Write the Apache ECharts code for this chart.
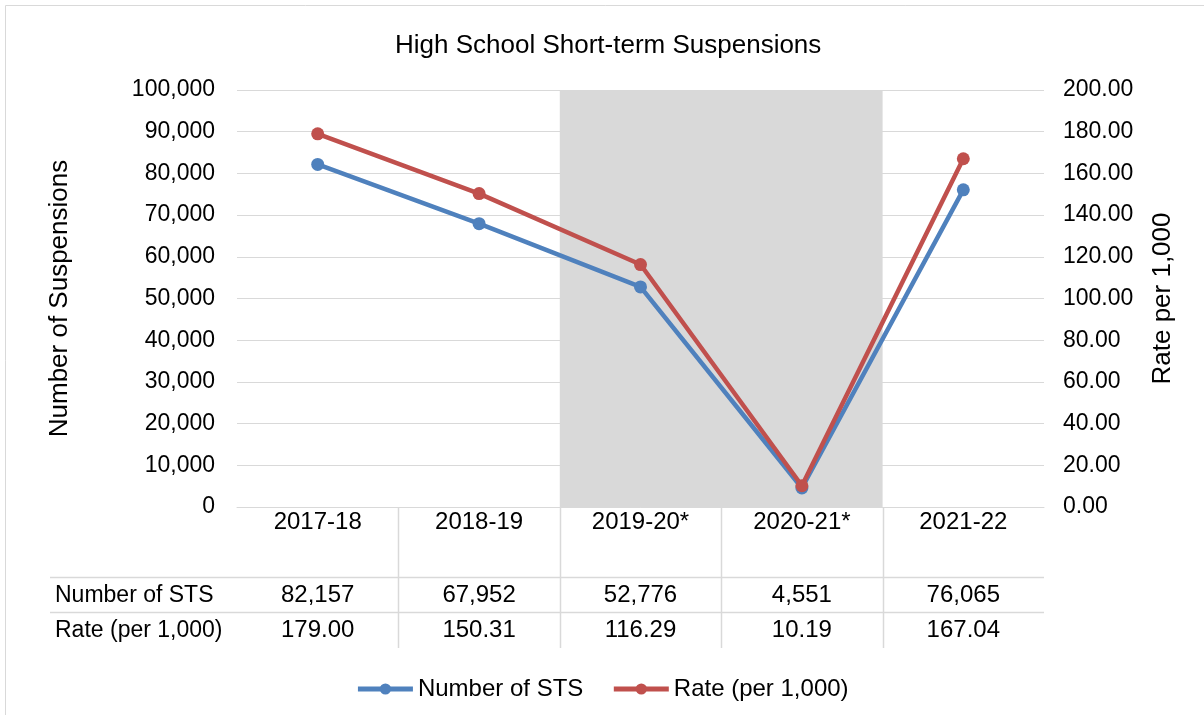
<!DOCTYPE html>
<html>
<head>
<meta charset="utf-8">
<title>High School Short-term Suspensions</title>
<script src="https://cdn.jsdelivr.net/npm/echarts@6/dist/echarts.min.js"></script>
<style>
  html, body { margin: 0; padding: 0; background: #fff; }
  #main { width: 1204px; height: 715px; }
</style>
</head>
<body>
<div id="main"></div>
<script>
// data
var years = ['2017-18', '2018-19', '2019-20*', '2020-21*', '2021-22'];
var stsCount = [82157, 67952, 52776, 4551, 76065];
var stsRate = [179.00, 150.31, 116.29, 10.19, 167.04];
var rowNames = ['Number of STS', 'Rate (per 1,000)'];
// shaded years (index range on the band axis)
var shadeFrom = 2, shadeTo = 4;

var FONT = 'Liberation Sans, Arial, sans-serif';
var BLUE = '#4F81BD';
var RED = '#C0504D';
var GRID = '#d9d9d9';

var fmtCount = function (v) { return Number(v).toLocaleString('en-US'); };
var fmtRate = function (v) { return Number(v).toFixed(2); };

var chart = echarts.init(document.getElementById('main'));

var option = {
    animation: false,
    textStyle: { fontFamily: FONT, color: '#000' },
    title: {
        text: 'High School Short-term Suspensions',
        left: 390,
        top: 28,
        textStyle: { fontFamily: FONT, fontSize: 26, fontWeight: 'normal', color: '#000' }
    },
    legend: {
        data: ['Number of STS', 'Rate (per 1,000)'],
        left: 'center',
        top: 672,
        itemWidth: 55,
        itemHeight: 14,
        itemGap: 28,
        lineStyle: { width: 5 },
        textStyle: { fontFamily: FONT, fontSize: 24, color: '#000' }
    },
    grid: { left: 237, right: 160, top: 90, bottom: 208, containLabel: false },
    xAxis: [
        {
            type: 'category',
            data: years,
            boundaryGap: true,
            axisLine: { lineStyle: { color: GRID, width: 1 } },
            axisTick: { show: false },
            axisLabel: { margin: 3, fontSize: 24, color: '#000', fontFamily: FONT }
        },
        {
            // helper axis for the shaded band and table grid
            type: 'value', min: 0, max: years.length, show: false
        },
        {
            type: 'category',
            data: stsCount.map(fmtCount),
            position: 'bottom',
            axisLine: { show: false },
            axisTick: { show: false },
            axisLabel: { margin: 76, fontSize: 24, color: '#000', fontFamily: FONT }
        },
        {
            type: 'category',
            data: stsRate.map(fmtRate),
            position: 'bottom',
            axisLine: { show: false },
            axisTick: { show: false },
            axisLabel: { margin: 111, fontSize: 24, color: '#000', fontFamily: FONT }
        }
    ],
    yAxis: [
        {
            type: 'value',
            min: 0, max: 100000, interval: 10000,
            name: 'Number of Suspensions',
            nameLocation: 'middle',
            nameGap: 164,
            nameTextStyle: { fontSize: 26, color: '#000', fontFamily: FONT },
            axisLine: { show: false },
            axisTick: { show: false },
            axisLabel: { margin: 22, fontSize: 23, color: '#000', fontFamily: FONT, formatter: fmtCount },
            splitLine: { lineStyle: { color: GRID, width: 1 } }
        },
        {
            type: 'value',
            min: 0, max: 200, interval: 20,
            name: 'Rate per 1,000',
            nameLocation: 'middle',
            nameGap: 106,
            nameTextStyle: { fontSize: 26, color: '#000', fontFamily: FONT },
            axisLine: { show: false },
            axisTick: { show: false },
            axisLabel: { margin: 19, fontSize: 23, color: '#000', fontFamily: FONT, formatter: fmtRate },
            splitLine: { show: false }
        }
    ],
    series: [
        {
            name: 'shade',
            type: 'line',
            xAxisIndex: 1,
            yAxisIndex: 0,
            data: [[0, 0]],
            symbol: 'none',
            lineStyle: { opacity: 0 },
            silent: true,
            z: 1,
            markArea: {
                silent: true,
                itemStyle: { color: '#d9d9d9' },
                data: [[{ xAxis: shadeFrom }, { xAxis: shadeTo }]]
            }
        },
        {
            name: 'Number of STS',
            type: 'line',
            data: stsCount,
            yAxisIndex: 0,
            symbol: 'circle',
            symbolSize: 13,
            lineStyle: { color: BLUE, width: 4.5 },
            itemStyle: { color: BLUE },
            z: 3
        },
        {
            name: 'Rate (per 1,000)',
            type: 'line',
            data: stsRate,
            yAxisIndex: 1,
            symbol: 'circle',
            symbolSize: 13,
            lineStyle: { color: RED, width: 4.5 },
            itemStyle: { color: RED },
            z: 4
        }
    ]
};

chart.setOption(option);

// data table grid + row labels, placed from the helper axis
function drawTable() {
    var y0 = chart.convertToPixel({ yAxisIndex: 0 }, 0);
    var xEnd = chart.convertToPixel({ xAxisIndex: 1 }, years.length);
    var rowY = [y0 + 70, y0 + 105];
    var bottomY = y0 + 141;
    var els = [];
    // outer frame
    els.push({
        type: 'rect',
        shape: { x: 5.5, y: 5.5, width: 1210, height: 720 },
        style: { fill: null, stroke: GRID, lineWidth: 1 },
        silent: true
    });
    for (var i = 1; i < years.length; i++) {
        var x = Math.round(chart.convertToPixel({ xAxisIndex: 1 }, i)) + 0.5;
        els.push({
            type: 'line',
            shape: { x1: x, y1: y0, x2: x, y2: bottomY },
            style: { stroke: GRID, lineWidth: 1.5 },
            silent: true
        });
    }
    rowY.forEach(function (y, k) {
        y = Math.round(y) + 0.5;
        els.push({
            type: 'line',
            shape: { x1: 50, y1: y, x2: xEnd, y2: y },
            style: { stroke: GRID, lineWidth: 1.5 },
            silent: true
        });
        els.push({
            type: 'text',
            x: 55,
            y: y + 18,
            style: {
                text: rowNames[k],
                fontFamily: FONT,
                fontSize: 23,
                fill: '#000',
                verticalAlign: 'middle',
                align: 'left'
            },
            silent: true
        });
    });
    chart.setOption({ graphic: { elements: els } });
}
drawTable();
</script>
</body>
</html>
